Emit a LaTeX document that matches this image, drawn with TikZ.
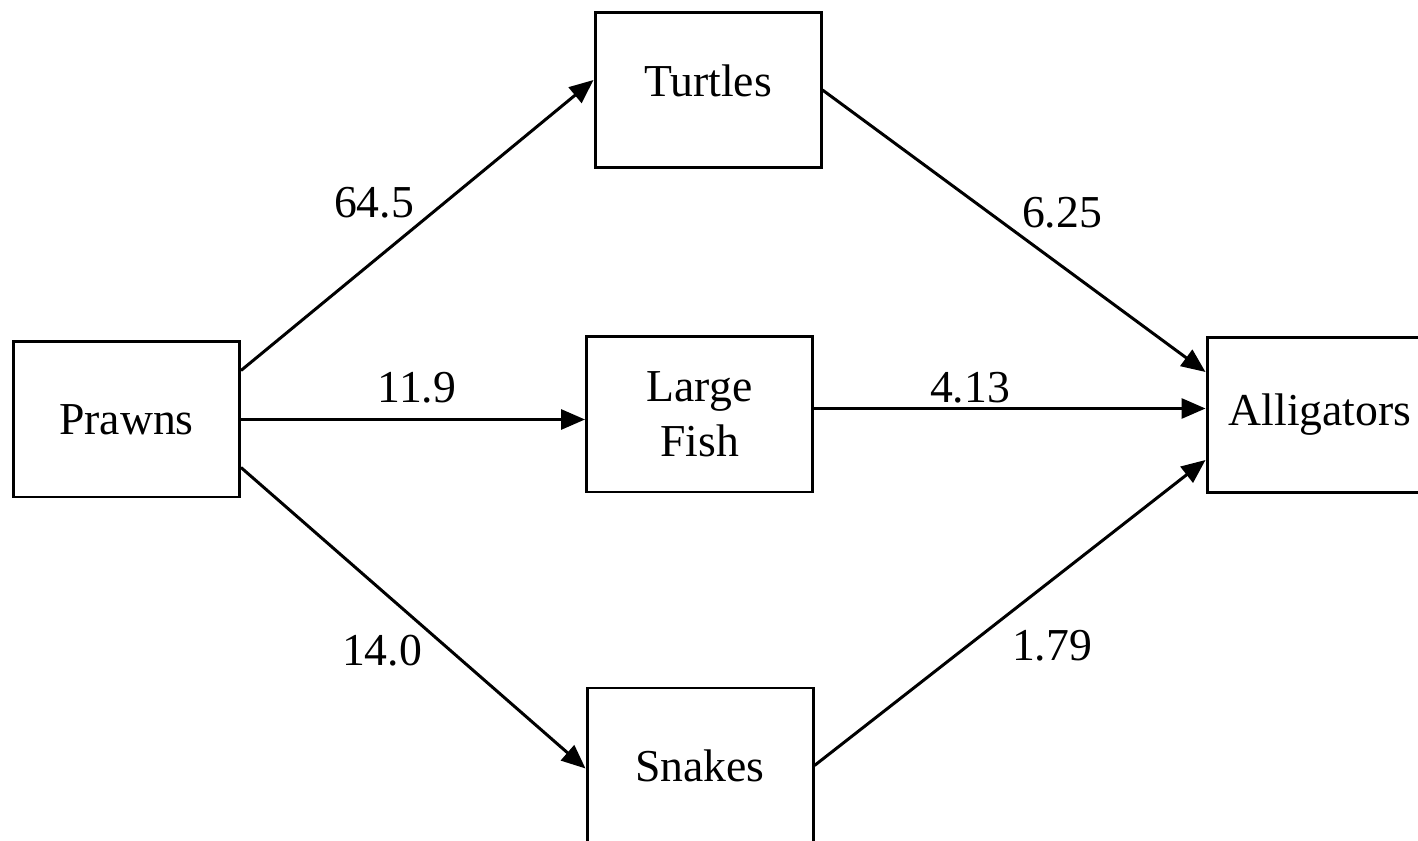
\documentclass[tikz,border=0pt]{standalone}
\usepackage{fontspec}
\setmainfont{Liberation Serif}
\usetikzlibrary{arrows.meta, positioning}

\begin{document}
\begin{tikzpicture}[
    box/.style={draw=black, line width=0.85pt, minimum width=2.26cm, minimum height=1.55cm, inner sep=0pt, align=center, font=\fontsize{13}{15.6}\selectfont},
    flow/.style={black, line width=0.85pt, -{Triangle[length=0.24cm, width=0.2cm]}},
    weight/.style={font=\fontsize{13}{15.6}\selectfont}
]
\useasboundingbox (0,0) rectangle (14.18,-8.41);

\node[box] (prawns) at (1.265, -4.195) {Prawns};
\node[box, text depth=0.18cm] (turtles) at (7.08, -0.9) {Turtles};
\node[box] (fish) at (6.995, -4.145) {Large\\Fish};
\node[box] (snakes) at (7.0, -7.655) {Snakes};
\node[box] (gators) at (13.2, -4.15) {Alligators};

\draw[flow] ([yshift=4.9mm]prawns.east) -- ([yshift=1mm]turtles.west);
\draw[flow] (prawns.east) -- (prawns.east -| fish.west);
\draw[flow] ([yshift=-4.8mm]prawns.east) -- ([yshift=-0.3mm]snakes.west);
\draw[flow] (turtles.east) -- ([yshift=4.3mm]gators.west);
\draw[flow] ([yshift=0.6mm]fish.east) -- ([yshift=0.6mm]fish.east -| gators.west);
\draw[flow] (snakes.east) -- ([yshift=-4.5mm]gators.west);

\node[weight] (wpt) at (3.74, -2.03) {64.5};
\node[weight] (wpf) at (4.17, -3.88) {11.9};
\node[weight] (wps) at (3.82, -6.51) {14.0};
\node[weight] (wta) at (10.62, -2.13) {6.25};
\node[weight] (wfa) at (9.70, -3.88) {4.13};
\node[weight] (wsa) at (10.52, -6.46) {1.79};

\end{tikzpicture}
\end{document}
